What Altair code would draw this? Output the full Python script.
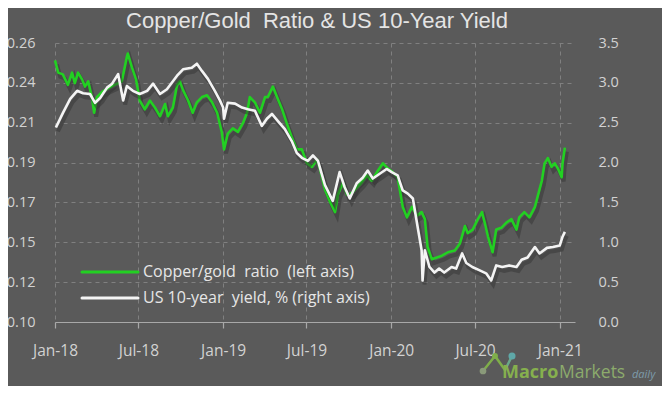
import altair as alt
import pandas as pd

# ---------------- data ----------------
ratio_dates = [
    "2018-01-01", "2018-01-08", "2018-01-18", "2018-01-29", "2018-02-07", "2018-02-13",
    "2018-02-20", "2018-03-01", "2018-03-07", "2018-03-14", "2018-03-22", "2018-03-27",
    "2018-04-02", "2018-04-13", "2018-04-26", "2018-05-11", "2018-05-26", "2018-06-06",
    "2018-06-08", "2018-06-17", "2018-06-26", "2018-07-04", "2018-07-15", "2018-07-26",
    "2018-08-06", "2018-08-17", "2018-08-28", "2018-09-03", "2018-09-14", "2018-09-23",
    "2018-09-29", "2018-10-06", "2018-10-17", "2018-10-27", "2018-11-05", "2018-11-16",
    "2018-11-27", "2018-12-08", "2018-12-19", "2018-12-29", "2019-01-03", "2019-01-11",
    "2019-01-22", "2019-02-02", "2019-02-13", "2019-02-22", "2019-02-28", "2019-03-11",
    "2019-03-22", "2019-04-02", "2019-04-08", "2019-04-19", "2019-04-28", "2019-05-09",
    "2019-05-19", "2019-05-30", "2019-06-10", "2019-06-21", "2019-07-02", "2019-07-13",
    "2019-07-24", "2019-07-30", "2019-08-10", "2019-08-21", "2019-09-01", "2019-09-07",
    "2019-09-18", "2019-09-27", "2019-10-08", "2019-10-18", "2019-10-29", "2019-11-09",
    "2019-11-20", "2019-12-01", "2019-12-14", "2019-12-25", "2020-01-04", "2020-01-15",
    "2020-01-26", "2020-02-04", "2020-02-15", "2020-02-26", "2020-03-07", "2020-03-14",
    "2020-03-20", "2020-03-29", "2020-04-09", "2020-04-20", "2020-05-03", "2020-05-18",
    "2020-05-29", "2020-06-09", "2020-06-15", "2020-06-26", "2020-07-07", "2020-07-16",
    "2020-07-22", "2020-07-29", "2020-08-08", "2020-08-16", "2020-08-27", "2020-09-07",
    "2020-09-18", "2020-09-29", "2020-10-05", "2020-10-16", "2020-10-27", "2020-11-08",
    "2020-11-14", "2020-11-23", "2020-11-29", "2020-12-06", "2020-12-14", "2020-12-21",
    "2020-12-28", "2021-01-05", "2021-01-07", "2021-01-12",
]
ratio_values = [
    0.250, 0.243, 0.242, 0.236, 0.243, 0.237,
    0.243, 0.239, 0.235, 0.238, 0.229, 0.220,
    0.229, 0.232, 0.234, 0.236, 0.238, 0.252,
    0.254, 0.246, 0.239, 0.227, 0.222, 0.227,
    0.223, 0.218, 0.225, 0.218, 0.223, 0.236,
    0.238, 0.233, 0.227, 0.220, 0.226, 0.229,
    0.230, 0.226, 0.220, 0.209, 0.199, 0.208,
    0.211, 0.209, 0.214, 0.220, 0.229, 0.226,
    0.220, 0.229, 0.229, 0.235, 0.229, 0.222,
    0.214, 0.206, 0.199, 0.199, 0.191, 0.189,
    0.193, 0.188, 0.176, 0.169, 0.163, 0.173,
    0.180, 0.173, 0.174, 0.177, 0.180, 0.184,
    0.181, 0.186, 0.191, 0.188, 0.186, 0.183,
    0.166, 0.160, 0.166, 0.161, 0.163, 0.159,
    0.143, 0.136, 0.137, 0.138, 0.140, 0.141,
    0.145, 0.155, 0.151, 0.153, 0.159, 0.163,
    0.157, 0.149, 0.140, 0.153, 0.154, 0.157,
    0.159, 0.153, 0.160, 0.163, 0.160, 0.166,
    0.172, 0.181, 0.191, 0.194, 0.189, 0.191,
    0.188, 0.183, 0.191, 0.200,
]

yield_dates = [
    "2018-01-03", "2018-01-18", "2018-02-03", "2018-02-18", "2018-03-03", "2018-03-18",
    "2018-03-29", "2018-04-09", "2018-04-24", "2018-05-05", "2018-05-18", "2018-05-29",
    "2018-06-06", "2018-06-19", "2018-07-04", "2018-07-20", "2018-08-02", "2018-08-17",
    "2018-09-01", "2018-09-23", "2018-10-06", "2018-10-25", "2018-11-05", "2018-11-16",
    "2018-11-29", "2018-12-14", "2018-12-25", "2019-01-01", "2019-01-03", "2019-01-11",
    "2019-01-27", "2019-02-11", "2019-02-24", "2019-03-11", "2019-03-26", "2019-04-06",
    "2019-04-17", "2019-04-30", "2019-05-15", "2019-05-30", "2019-06-10", "2019-06-21",
    "2019-07-04", "2019-07-15", "2019-07-26", "2019-08-03", "2019-08-10", "2019-08-27",
    "2019-09-11", "2019-09-22", "2019-10-03", "2019-10-18", "2019-10-31", "2019-11-11",
    "2019-11-22", "2019-12-07", "2019-12-22", "2020-01-02", "2020-01-15", "2020-01-26",
    "2020-02-06", "2020-02-17", "2020-02-28", "2020-03-07", "2020-03-09", "2020-03-14",
    "2020-03-24", "2020-04-04", "2020-04-14", "2020-04-25", "2020-05-11", "2020-05-21",
    "2020-06-03", "2020-06-12", "2020-06-25", "2020-07-10", "2020-07-25", "2020-08-05",
    "2020-08-16", "2020-08-29", "2020-09-13", "2020-09-29", "2020-10-10", "2020-10-23",
    "2020-11-08", "2020-11-18", "2020-12-04", "2020-12-17", "2021-01-01", "2021-01-07",
    "2021-01-12",
]
yield_values = [
    2.44, 2.62, 2.80, 2.90, 2.87, 2.86,
    2.75, 2.81, 2.94, 2.99, 3.11, 2.78,
    2.96, 2.90, 2.86, 2.90, 2.99, 2.86,
    2.92, 3.09, 3.17, 3.19, 3.24, 3.15,
    3.05, 2.90, 2.78, 2.69, 2.55, 2.75,
    2.74, 2.69, 2.67, 2.65, 2.46, 2.55,
    2.61, 2.52, 2.42, 2.27, 2.12, 2.06,
    2.02, 2.09, 2.02, 1.86, 1.72, 1.52,
    1.88, 1.69, 1.55, 1.74, 1.81, 1.90,
    1.80, 1.86, 1.92, 1.88, 1.84, 1.65,
    1.61, 1.55, 1.17, 0.90, 0.52, 0.90,
    0.69, 0.62, 0.67, 0.62, 0.69, 0.67,
    0.86, 0.74, 0.69, 0.65, 0.61, 0.52,
    0.71, 0.69, 0.71, 0.69, 0.78, 0.81,
    0.94, 0.86, 0.93, 0.94, 0.96, 1.07,
    1.13,
]

title_text = "Copper/Gold\u00a0 Ratio & US 10-Year Yield"
legend_labels = ["Copper/gold\u00a0 ratio\u00a0 (left axis)",
                 "US 10-year\u00a0 yield, % (right axis)"]
x_tick_dates = ["2018-01-01", "2018-07-01", "2019-01-01", "2019-07-01",
                "2020-01-01", "2020-07-01", "2021-01-01"]
left_ticks = [0.10 + i * 0.16 / 7 for i in range(8)]
right_ticks = [0.0, 0.5, 1.0, 1.5, 2.0, 2.5, 3.0, 3.5]

# ---------------- style ----------------
BG = "#5a5a5a"
GREEN = "#22d022"
WHITE = "#f4f4f4"
TXT = "#d2d2d2"
GRID = "#808080"
FONT = "Open Sans"
W, H = 520, 279

df_r = pd.DataFrame({"date": ratio_dates, "value": ratio_values})
df_y = pd.DataFrame({"date": yield_dates, "value": yield_values})

def to_dt(s):
    y, m, d = (int(p) for p in s.split("-"))
    return alt.DateTime(year=y, month=m, date=d, utc=True)

x_enc = alt.X(
    "date:T",
    scale=alt.Scale(type="utc", domain=[to_dt("2018-01-01"), to_dt("2021-02-03")]),
    axis=alt.Axis(
        values=[to_dt(s) for s in x_tick_dates],
        labelExpr="utcFormat(datum.value, '%b-%y')",
        title=None, grid=True, gridDash=[4, 4], gridColor=GRID, gridWidth=1,
        domain=True, domainColor="#a8a8a8", domainWidth=1.2,
        ticks=True, tickColor="#a8a8a8", tickSize=6, tickWidth=1.2,
        labelColor=TXT, labelFont=FONT, labelFontSize=15.5, labelPadding=15,
        labelFlush=False, labelOverlap=False,
    ),
)

left_axis = alt.Axis(
    values=left_ticks, format=".2f", title=None, orient="left",
    grid=True, gridDash=[4, 4], gridColor=GRID, gridWidth=1,
    domain=False, ticks=False, tickSize=0,
    labelColor=TXT, labelFont=FONT, labelFontSize=14.5, labelPadding=20,
)
right_axis = alt.Axis(
    values=right_ticks, format=".1f", title=None, orient="right",
    grid=False, domain=False, ticks=False, tickSize=0,
    labelColor=TXT, labelFont=FONT, labelFontSize=14.5, labelPadding=23, labelAlign="left",
)

y_left = alt.Y("value:Q", scale=alt.Scale(domain=[0.10, 0.26], nice=False, zero=False),
               axis=left_axis)
y_right = alt.Y("value:Q", scale=alt.Scale(domain=[0.0, 3.5], nice=False, zero=False),
                axis=right_axis)

shadow_kw = dict(color="#303030", opacity=0.45, strokeWidth=4, xOffset=2, yOffset=4)

left_group = alt.layer(
    alt.Chart(df_r).mark_line(**shadow_kw).encode(x=x_enc, y=y_left),
    alt.Chart(df_r).mark_line(color=GREEN, strokeWidth=2.6, strokeJoin="round").encode(x=x_enc, y=y_left),
)
right_group = alt.layer(
    alt.Chart(df_y).mark_line(**shadow_kw).encode(x=x_enc, y=y_right),
    alt.Chart(df_y).mark_line(color=WHITE, strokeWidth=2.6, strokeJoin="round").encode(x=x_enc, y=y_right),
)

# ---------------- decorations: title, legend, watermark ----------------
def one_row():
    return pd.DataFrame({"a": [0]})

def text_layer(txt, x, y, **kw):
    return alt.Chart(pd.DataFrame({"t": [txt]})).mark_text(**kw).encode(
        text="t:N", x=alt.value(x), y=alt.value(y))

def seg(x1, y1, x2, y2, color, w=2.5):
    return alt.Chart(one_row()).mark_rule(color=color, strokeWidth=w, strokeCap="round").encode(
        x=alt.value(x1), y=alt.value(y1), x2=alt.value(x2), y2=alt.value(y2))

def dot(x, y, color, size=40):
    return alt.Chart(one_row()).mark_point(filled=True, color=color, size=size, opacity=1).encode(
        x=alt.value(x), y=alt.value(y))

title = text_layer(title_text, W / 2 + 2, -15, font="Liberation Sans", fontSize=22,
                   color="#e4e4e4", align="center", baseline="alphabetic")

leg_rule_g = seg(27, 229, 83, 229, GREEN, 3)
leg_rule_w = seg(27, 255, 83, 255, WHITE, 3)
leg_txt_g = text_layer(legend_labels[0], 88, 229, font=FONT, fontSize=16, color="#e6e6e6",
                       align="left", baseline="middle")
leg_txt_w = text_layer(legend_labels[1], 88, 255, font=FONT, fontSize=16, color="#e6e6e6",
                       align="left", baseline="middle")

logo = [
    seg(428, 328, 440, 313, "#7fae4a"),
    seg(440, 313, 450, 327, "#7fae4a"),
    seg(450, 327, 457, 313, "#6aa88a"),
    dot(428, 328, "#8a9a7a", 45),
    dot(440, 313, "#7fae4a", 35),
    dot(457, 313, "#5fa8a8", 50),
]
wm1 = text_layer("Macro", 447, 335, font=FONT, fontSize=18, fontWeight="bold",
                 color="#86b04e", align="left", baseline="alphabetic")
wm2 = text_layer("Markets", 504, 335, font=FONT, fontSize=17.5, color="#8cab6c",
                 align="left", baseline="alphabetic")
wm3 = text_layer("daily", 577, 335, font=FONT, fontSize=11, fontStyle="italic",
                 color="#7e9cab", align="left", baseline="alphabetic")

chart = alt.layer(
    left_group, right_group,
    title, leg_rule_g, leg_rule_w, leg_txt_g, leg_txt_w, *logo, wm1, wm2, wm3,
).resolve_scale(y="independent").properties(
    width=W, height=H,
    autosize=alt.AutoSizeParams(type="none"),
    padding={"left": 47, "top": 35, "right": 87, "bottom": 64},
    background=BG,
).configure_view(stroke=None)

chart.save("out.html", embed_options={"renderer": "svg", "actions": False})
